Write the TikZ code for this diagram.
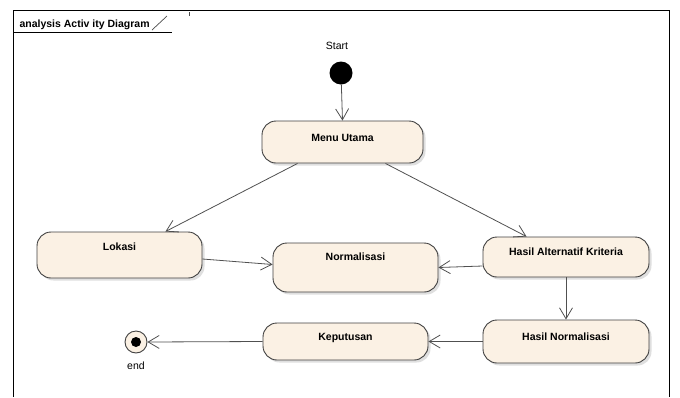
\documentclass[tikz,border=0pt]{standalone}
\usepackage{fontspec}
\setmainfont{Liberation Sans}
\usetikzlibrary{arrows.meta,shadows}
\definecolor{actfill}{RGB}{251,241,228}
\definecolor{actline}{RGB}{64,64,64}
\definecolor{flowline}{RGB}{80,80,80}
\begin{document}
\begin{tikzpicture}[x=1pt, y=-1pt,
    act/.style={draw=actline, fill=actfill, line width=0.9pt,
      rounded corners=14pt, inner sep=0pt, text height=6pt,
      font=\fontsize{10.5}{12}\selectfont\bfseries,
      drop shadow={shadow xshift=2.5pt, shadow yshift=-2.5pt,
        fill=black!25}},
    lbl/.style={font=\fontsize{10.5}{12}\selectfont}]
    \useasboundingbox (0,0) rectangle (680,397);

    % frame and header
    \draw[line width=0.9pt] (13,397) -- (13,10) -- (669,10) -- (669,397);
    \draw[line width=0.8pt] (13,32) -- (172,32);
    \draw[line width=0.7pt, black!70] (152,30) -- (167,16);
    \draw[line width=0.6pt, black!70] (189,12) -- (189,16);
    \node[lbl, font=\fontsize{10.5}{12}\selectfont\bfseries, anchor=base west]
      (title) at (16,27) {analysis Activ ity Diagram};

    % initial and final states
    \node[circle, fill=black, minimum size=23pt, inner sep=0pt] (start) at (341,73) {};
    \node[lbl] (startlbl) at (337,46) {Start};
    \node[circle, draw=actline, fill=actfill, line width=0.9pt, minimum size=22pt,
      inner sep=0pt] (end) at (136,342) {};
    \fill (end.center) circle (5pt);
    \node[lbl] (endlbl) at (136,366) {end};

    % activities
    \begin{scope}[every node/.style={act}]
      \node[minimum width=161pt, minimum height=42pt, text depth=8pt]
        (menu) at (342.5,142) {Menu Utama};
      \node[minimum width=165pt, minimum height=46pt, text depth=16pt]
        (lokasi) at (119.5,255) {Lokasi};
      \node[minimum width=165pt, minimum height=49pt, text depth=20pt]
        (norm) at (355.5,267.5) {Normalisasi};
      \node[minimum width=166pt, minimum height=40pt, text depth=10pt]
        (alt) at (566,257) {Hasil Alternatif Kriteria};
      \node[minimum width=166pt, minimum height=43pt, text depth=9pt]
        (hnorm) at (566,341.5) {Hasil Normalisasi};
      \node[minimum width=165pt, minimum height=37pt, text depth=9pt]
        (keputusan) at (345.5,341.5) {Keputusan};
    \end{scope}

    % flows
    \begin{scope}[-{Straight Barb[length=11pt, width=13pt]}, draw=flowline,
      line width=0.8pt]
      \draw (start) -- (menu.north);
      \draw ([xshift=36pt]menu.south west) -- ([xshift=-37pt]lokasi.north east);
      \draw ([xshift=-38pt]menu.south east) -- ([xshift=44pt]alt.north west);
      \draw ([yshift=-4pt]lokasi.east) -- ([yshift=3pt]norm.west);
      \draw ([yshift=-9pt]alt.west) -- (norm.east);
      \draw (alt.south) -- (hnorm.north);
      \draw (hnorm.west) -- (keputusan.east);
      \draw (keputusan.west) -- (end.east);
    \end{scope}
  \end{tikzpicture}
\end{document}
